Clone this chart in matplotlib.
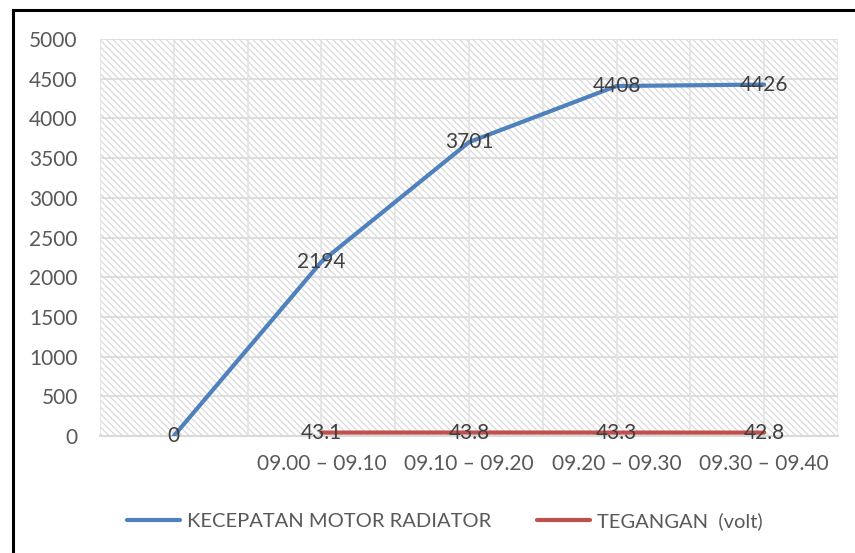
import matplotlib.pyplot as plt
from matplotlib.lines import Line2D

# chart data
categories = ['', '09.00 – 09.10', '09.10 – 09.20', '09.20 – 09.30', '09.30 – 09.40']
kecepatan = [0, 2194, 3701, 4408, 4426]
tegangan = [43.1, 43.8, 43.3, 42.8]   # starts at the second category

plt.rcParams['font.family'] = ['Lato', 'DejaVu Sans']
plt.rcParams['hatch.color'] = '#dadada'
plt.rcParams['hatch.linewidth'] = 0.9

W, H = 855, 553
fig = plt.figure(figsize=(W / 100, H / 100), dpi=100)
ax = fig.add_axes([100 / W, (H - 436) / H, 738 / W, 397 / H])

x = list(range(len(categories)))
ax.set_xlim(-0.5, len(categories) - 0.5)
ax.set_ylim(0, 5000)

# hatched plot area like the Excel pattern fill
ax.set_facecolor('white')
ax.patch.set_hatch('\\\\\\\\\\')
ax.patch.set_edgecolor('#dadada')
ax.patch.set_linewidth(0)

for v in range(0, 5001, 500):
    ax.axhline(v, color='#d9d9d9', lw=1.2, zorder=1)
for i in range(2 * len(categories) + 1):
    ax.axvline(-0.5 + i * 0.5, color='#e3e3e3', lw=1.2, zorder=1)

for s in ['top', 'right', 'left']:
    ax.spines[s].set_visible(False)
ax.spines['bottom'].set_color('#d9d9d9')
ax.spines['bottom'].set_linewidth(1.5)

blue = '#4f81bd'
red = '#c0504d'
l1, = ax.plot(x, kecepatan, color=blue, lw=3, solid_capstyle='round', zorder=3)
l2, = ax.plot(x[1:], tegangan, color=red, lw=3, solid_capstyle='round', zorder=3)

lab_kw = dict(ha='center', va='center', fontsize=15, color='#404040', zorder=5)
for xi, v in zip(x, kecepatan):
    ax.text(xi, v, f'{v}', **lab_kw)
for xi, v in zip(x[1:], tegangan):
    ax.text(xi, v, f'{v}', **lab_kw)

ax.set_xticks(x)
ax.set_xticklabels(categories)
ax.set_yticks(range(0, 5001, 500))
ax.tick_params(axis='both', length=0, labelsize=15, labelcolor='#595959')
ax.tick_params(axis='y', pad=16)
ax.tick_params(axis='x', pad=13)

fig.legend([l1, l2], ['KECEPATAN MOTOR RADIATOR', 'TEGANGAN  (volt)'],
           loc='center', bbox_to_anchor=(445 / W, 1 - 521 / H), ncol=2, frameon=False,
           fontsize=14.5, labelcolor='#595959', handlelength=2.6,
           handletextpad=0.35, columnspacing=2.3)

# outer border, only left and top edges are visible
fig.add_artist(Line2D([13 / W, 13 / W], [0, 1 - 10 / H], transform=fig.transFigure,
                      color='black', lw=2.2))
fig.add_artist(Line2D([13 / W, 1], [1 - 10 / H, 1 - 10 / H], transform=fig.transFigure,
                      color='black', lw=2.2))

fig.savefig('out.png', dpi=100)
